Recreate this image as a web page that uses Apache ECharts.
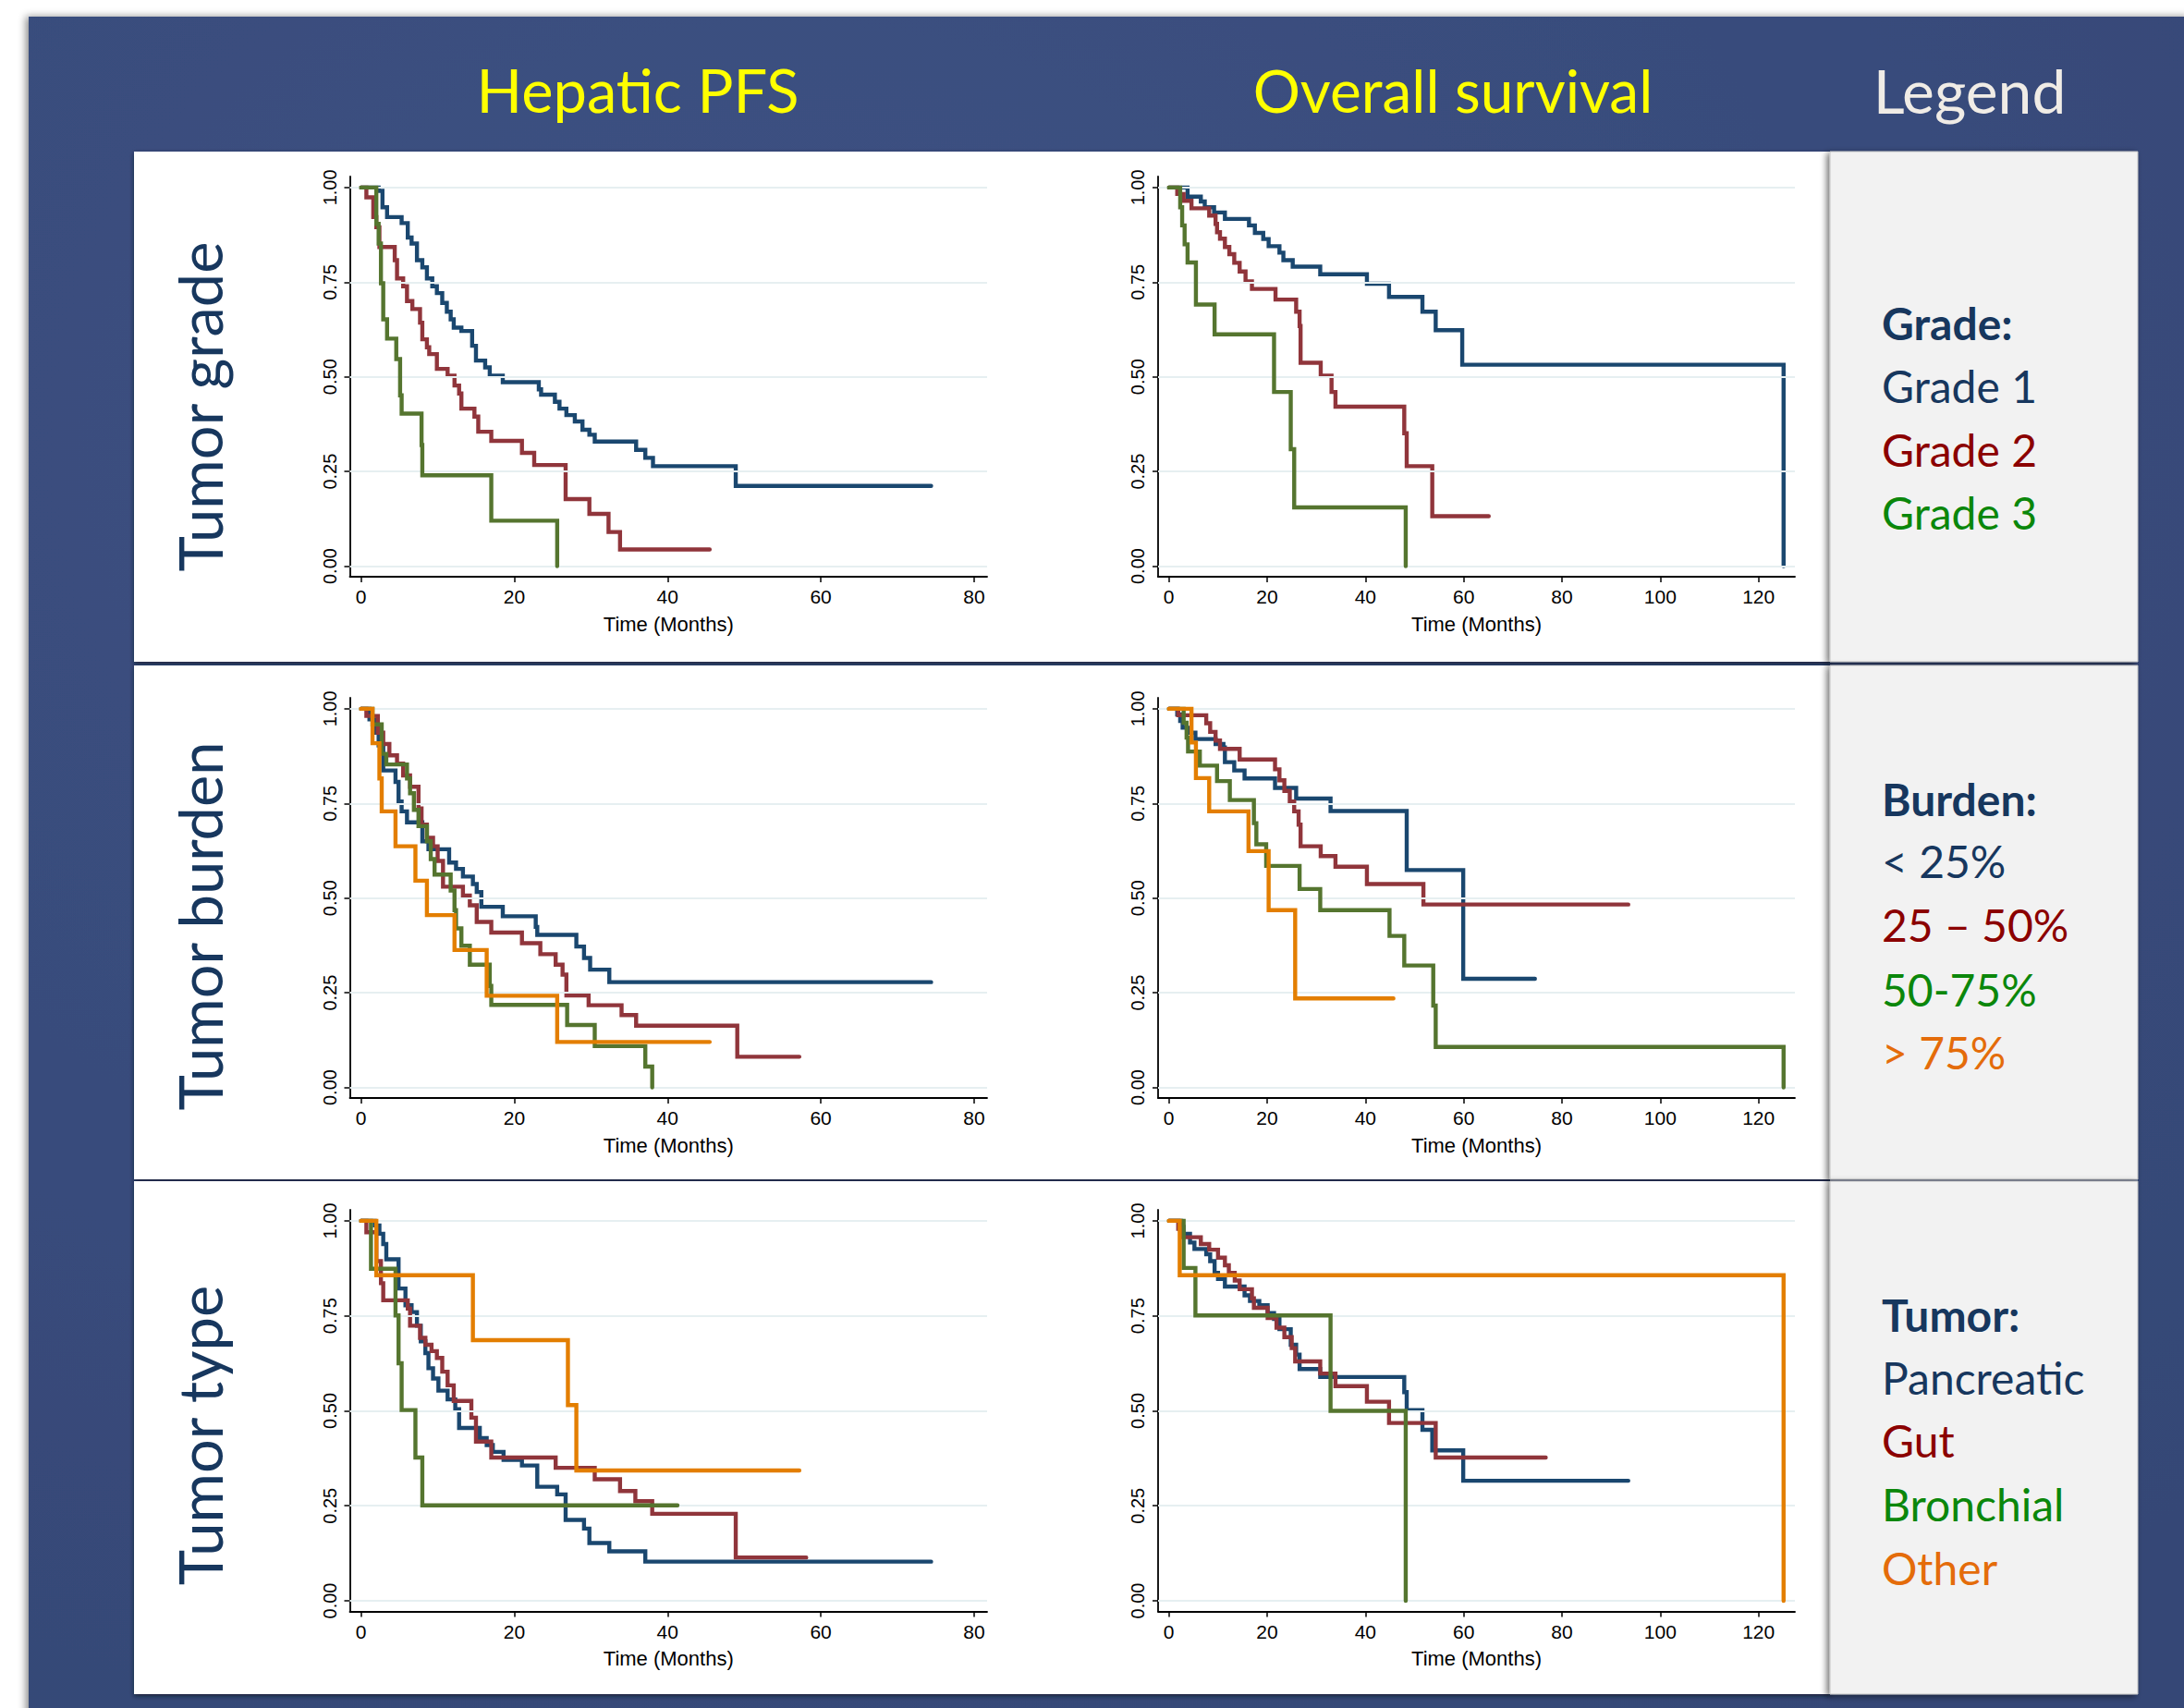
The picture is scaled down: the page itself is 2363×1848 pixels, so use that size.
<!DOCTYPE html>
<html><head><meta charset="utf-8">
<script src="https://cdn.jsdelivr.net/npm/echarts@6/dist/echarts.min.js"></script>
<style>html,body{margin:0;padding:0;background:#fff;}#c{width:2363px;height:1848px;}</style>
</head><body><div id="c"></div>
<script>
// ---------- tick labels & texts ----------
const xTicksPFS = [0, 20, 40, 60, 80];
const xTicksOS = [0, 20, 40, 60, 80, 100, 120];
const yTicks = [0, 0.25, 0.5, 0.75, 1];
const columnTitles = ['Hepatic PFS', 'Overall survival', 'Legend'];
const rowTitles = ['Tumor grade', 'Tumor burden', 'Tumor type'];
const legendHeads = ['Grade:', 'Burden:', 'Tumor:'];
const legendItems = [
  ['Grade 1', 'Grade 2', 'Grade 3'],
  ['< 25%', '25 – 50%', '50-75%', '> 75%'],
  ['Pancreatic', 'Gut', 'Bronchial', 'Other']
];
const xAxisName = 'Time (Months)';

// ---------- series values: [time (months), survival] ----------
const pfsGrade1 = [[0,1],[2.3,0.991],[2.8,0.948],[3.4,0.922],[5.3,0.906],[6.1,0.868],[6.6,0.852],[7.3,0.808],[8.0,0.789],[8.6,0.760],[9.3,0.739],[9.9,0.721],[10.6,0.695],[11.2,0.672],[11.7,0.652],[12.1,0.630],[13.1,0.621],[14.5,0.582],[15.0,0.543],[16.2,0.525],[16.8,0.503],[18.5,0.486],[23.2,0.467],[23.5,0.453],[25.3,0.434],[25.9,0.416],[26.8,0.399],[27.9,0.382],[28.9,0.360],[29.8,0.347],[30.5,0.329],[35.9,0.307],[37.1,0.286],[38.1,0.264],[48.9,0.212],[74.4,0.212]];
const pfsGrade2 = [[0,1],[0.7,0.974],[1.6,0.922],[2.0,0.895],[2.4,0.843],[4.4,0.808],[4.7,0.760],[5.5,0.739],[6.0,0.700],[6.7,0.679],[7.7,0.643],[8.0,0.599],[8.6,0.578],[8.9,0.560],[9.9,0.521],[11.3,0.503],[12.2,0.477],[12.8,0.456],[13.1,0.416],[14.8,0.395],[15.3,0.355],[17.0,0.331],[21.0,0.299],[22.6,0.267],[26.7,0.177],[29.8,0.138],[32.3,0.090],[33.8,0.044],[45.5,0.044]];
const pfsGrade3 = [[0,1],[2.0,0.904],[2.3,0.852],[2.6,0.747],[2.9,0.652],[3.4,0.601],[4.6,0.547],[5.1,0.451],[5.3,0.403],[7.9,0.32],[8.0,0.24],[17.0,0.12],[25.6,0]];

const osGrade1 = [[0,1],[3.8,0.976],[6.5,0.963],[7.3,0.948],[9.2,0.934],[11.4,0.917],[16.3,0.9],[17.5,0.88],[19.2,0.864],[20.3,0.845],[22.5,0.828],[23.3,0.808],[25.2,0.791],[30.8,0.771],[40.3,0.746],[44.8,0.711],[51.6,0.672],[54.3,0.623],[59.7,0.532],[125.1,0]];
const osGrade2 = [[0,1],[1.7,0.983],[3.0,0.965],[4.6,0.945],[8.2,0.926],[9.5,0.904],[9.8,0.882],[10.4,0.865],[11.4,0.843],[12.3,0.824],[13.3,0.801],[14.4,0.778],[15.6,0.752],[16.9,0.732],[21.7,0.704],[25.9,0.672],[26.6,0.634],[26.8,0.537],[30.9,0.503],[33.1,0.46],[33.9,0.421],[47.9,0.351],[48.4,0.264],[53.6,0.132],[65.1,0.132]];
const osGrade3 = [[0,1],[2.3,0.948],[2.7,0.9],[3.2,0.85],[3.8,0.802],[5.5,0.691],[9.3,0.612],[21.4,0.46],[24.8,0.309],[25.5,0.155],[48.2,0]];

const pfsBurden1 = [[0,1],[1.1,0.972],[1.8,0.937],[2.3,0.903],[2.9,0.837],[4.5,0.807],[4.9,0.755],[5.3,0.729],[6.0,0.7],[8.0,0.65],[8.8,0.629],[11.5,0.594],[12.4,0.577],[13.3,0.557],[14.6,0.537],[15.1,0.516],[15.7,0.477],[18.5,0.452],[22.8,0.424],[23.0,0.403],[28.1,0.372],[29.1,0.342],[29.9,0.311],[32.4,0.278],[74.4,0.278]];
const pfsBurden2 = [[0,1],[0.7,0.981],[2.2,0.937],[2.9,0.907],[3.7,0.877],[4.7,0.855],[5.5,0.824],[6.4,0.794],[7.5,0.737],[7.9,0.694],[8.6,0.659],[9.4,0.637],[10.0,0.598],[10.7,0.53],[13.3,0.507],[14.2,0.481],[15.1,0.437],[17.0,0.409],[21.0,0.381],[23.4,0.352],[25.4,0.324],[26.3,0.298],[26.8,0.243],[29.7,0.217],[34.0,0.191],[35.9,0.163],[49.1,0.081],[57.2,0.081]];
const pfsBurden3 = [[0,1],[1.5,0.959],[2.7,0.881],[3.3,0.853],[6.0,0.816],[6.4,0.777],[6.9,0.733],[7.5,0.69],[8.6,0.65],[9.1,0.603],[9.6,0.562],[11.7,0.52],[12.2,0.468],[12.4,0.42],[13.1,0.374],[14.2,0.324],[16.8,0.268],[17.0,0.218],[26.9,0.165],[30.5,0.109],[37.1,0.055],[38.0,0]];
const pfsBurden4 = [[0,1],[1.5,0.909],[2.4,0.816],[2.7,0.729],[4.5,0.637],[7.1,0.546],[8.6,0.455],[12.2,0.363],[16.4,0.242],[25.6,0.12],[45.5,0.12]];

const osBurden1 = [[0,1],[1.7,0.985],[2.3,0.968],[2.8,0.95],[3.9,0.937],[5.4,0.92],[9.5,0.907],[11.1,0.898],[11.4,0.859],[13.3,0.837],[15.4,0.816],[21.6,0.791],[25.9,0.763],[32.9,0.73],[48.4,0.574],[59.9,0.287],[74.5,0.287]];
const osBurden2 = [[0,1],[1.9,0.983],[7.6,0.962],[8.4,0.939],[9.5,0.916],[10.4,0.894],[14.4,0.866],[21.6,0.84],[22.5,0.811],[23.5,0.783],[24.6,0.755],[25.5,0.729],[26.4,0.694],[26.8,0.637],[30.9,0.611],[33.9,0.583],[40.3,0.537],[51.8,0.483],[93.5,0.483]];
const osBurden3 = [[0,1],[3.0,0.963],[3.6,0.924],[3.9,0.887],[6.3,0.85],[9.8,0.809],[12.4,0.759],[17.3,0.698],[17.8,0.642],[19.8,0.585],[26.6,0.524],[30.8,0.468],[44.9,0.4],[47.9,0.322],[53.8,0.216],[54.3,0.107],[125.1,0]];
const osBurden4 = [[0,1],[4.6,0.911],[5.5,0.817],[8.2,0.729],[16.2,0.624],[20.3,0.468],[25.7,0.235],[45.7,0.235]];

const pfsType1 = [[0,1],[1.8,0.988],[2.4,0.966],[2.9,0.939],[3.3,0.899],[4.9,0.822],[5.8,0.778],[6.6,0.76],[7.3,0.724],[7.8,0.683],[8.4,0.652],[8.8,0.612],[9.4,0.585],[10.1,0.553],[11.3,0.53],[12.3,0.504],[12.8,0.455],[15.5,0.428],[16.4,0.41],[17.2,0.392],[18.6,0.371],[21.0,0.356],[23.0,0.3],[25.6,0.28],[26.7,0.213],[29.1,0.19],[29.8,0.152],[32.4,0.13],[37.1,0.103],[74.4,0.103]];
const pfsType2 = [[0,1],[0.7,0.97],[2.0,0.894],[2.6,0.836],[2.9,0.791],[6.1,0.769],[6.4,0.724],[7.7,0.692],[8.4,0.674],[9.2,0.657],[9.9,0.639],[10.6,0.603],[11.3,0.567],[12.1,0.526],[14.4,0.482],[15.0,0.419],[17.0,0.377],[25.4,0.35],[30.5,0.32],[33.8,0.289],[35.8,0.262],[38.0,0.229],[48.9,0.114],[58.1,0.114]];
const pfsType3 = [[0,1],[1.3,0.874],[4.5,0.751],[4.9,0.625],[5.3,0.502],[7.1,0.377],[8.0,0.251],[41.3,0.251]];
const pfsType4 = [[0,1],[2.0,0.857],[14.6,0.686],[27.0,0.515],[28.1,0.343],[57.2,0.343]];

const osType1 = [[0,1],[2.5,0.984],[3.0,0.966],[4.3,0.943],[5.2,0.926],[7.6,0.912],[8.4,0.894],[9.3,0.863],[10.0,0.847],[11.4,0.827],[15.4,0.804],[16.5,0.789],[18.4,0.778],[20.1,0.757],[21.4,0.742],[22.5,0.715],[24.8,0.674],[25.9,0.648],[26.6,0.61],[30.8,0.589],[47.9,0.549],[48.4,0.502],[51.6,0.45],[53.6,0.396],[59.9,0.316],[93.5,0.316]];
const osType2 = [[0,1],[1.9,0.979],[2.5,0.957],[6.5,0.939],[8.2,0.924],[10.0,0.903],[11.4,0.883],[12.2,0.863],[13.4,0.843],[14.4,0.82],[16.9,0.796],[17.3,0.771],[20.1,0.744],[21.9,0.719],[23.5,0.694],[25.0,0.665],[25.7,0.63],[30.8,0.598],[33.9,0.565],[40.3,0.524],[44.8,0.468],[54.3,0.377],[76.7,0.377]];
const osType3 = [[0,1],[3.0,0.876],[5.4,0.751],[32.9,0.5],[48.2,0]];
const osType4 = [[0,1],[2.2,0.857],[125.1,0]];

// ---------- styling / layout ----------
const lineColors = ['#1a476f', '#90353b', '#55752f', '#e37e00'];
const legendColors = ['#17375e', '#8b0000', '#0b870b', '#e46c0a'];
const headColor = '#17375e';
const cols = [
  { left: 378.5, width: 689.5, min: -1.46, max: 81.7, ticks: xTicksPFS },
  { left: 1253, width: 689, min: -2.2, max: 127.4, ticks: xTicksOS }
];
const rows = [
  { top: 191, height: 433, panelY: 164, panelH: 552, center: 440, legY: [349, 417, 486, 554] },
  { top: 755, height: 433, panelY: 720, panelH: 556, center: 1002, legY: [864, 931, 1000, 1070, 1138] },
  { top: 1309, height: 434.5, panelY: 1278, panelH: 555, center: 1553, legY: [1422, 1490, 1558, 1627, 1696] }
];
const panels = [
  { row: 0, col: 0, curves: [pfsGrade1, pfsGrade2, pfsGrade3] },
  { row: 0, col: 1, curves: [osGrade1, osGrade2, osGrade3] },
  { row: 1, col: 0, curves: [pfsBurden1, pfsBurden2, pfsBurden3, pfsBurden4] },
  { row: 1, col: 1, curves: [osBurden1, osBurden2, osBurden3, osBurden4] },
  { row: 2, col: 0, curves: [pfsType1, pfsType2, pfsType3, pfsType4] },
  { row: 2, col: 1, curves: [osType1, osType2, osType3, osType4] }
];

const grid = [], xAxis = [], yAxis = [], series = [];
const tickFont = '"Liberation Sans", Arial, Helvetica, sans-serif';
panels.forEach((p, i) => {
  const c = cols[p.col], r = rows[p.row];
  grid.push({ left: c.left, top: r.top, width: c.width, height: r.height, containLabel: false });
  xAxis.push({
    type: 'value', gridIndex: i, min: c.min, max: c.max,
    axisLine: { show: true, onZero: false, lineStyle: { color: '#000', width: 1.8 } },
    axisTick: { show: true, customValues: c.ticks, length: 6, lineStyle: { color: '#000', width: 1.5 } },
    axisLabel: { show: true, customValues: c.ticks, fontSize: 21, color: '#000', fontFamily: tickFont, margin: 11 },
    splitLine: { show: false },
    name: xAxisName, nameLocation: 'middle', nameGap: 40,
    nameTextStyle: { fontSize: 22, color: '#000', fontFamily: tickFont }
  });
  yAxis.push({
    type: 'value', gridIndex: i, min: -0.028, max: 1.029,
    axisLine: { show: true, onZero: false, lineStyle: { color: '#000', width: 1.8 } },
    axisTick: { show: true, customValues: yTicks, length: 6, lineStyle: { color: '#000', width: 1.5 } },
    axisLabel: { show: true, customValues: yTicks, rotate: 90, fontSize: 20, color: '#000', fontFamily: tickFont, margin: 12,
      formatter: v => Number(v).toFixed(2) },
    splitLine: { show: false }
  });
  // gridlines
  series.push({
    type: 'line', xAxisIndex: i, yAxisIndex: i, data: [], z: 1, silent: true,
    markLine: { silent: true, symbol: ['none', 'none'], animation: false, label: { show: false },
      lineStyle: { color: '#e6eff1', width: 1.8, type: 'solid' },
      data: yTicks.map(v => ({ yAxis: v })) }
  });
  p.curves.forEach((d, k) => {
    series.push({
      type: 'line', xAxisIndex: i, yAxisIndex: i, data: d, step: 'end',
      showSymbol: false, symbol: 'none', z: 3 + k, silent: true,
      lineStyle: { color: lineColors[k], width: 4.4, join: 'miter', cap: 'round' }
    });
  });
});

// ---------- decorative background & texts ----------
const titleFont = 'Lato, "Open Sans", "Noto Sans", sans-serif';
const graphic = [];
graphic.push({
  type: 'rect', z: -30, shape: { x: 31, y: 18, width: 2340, height: 1840 },
  style: {
    fill: { type: 'radial', x: 0.35, y: 0.25, r: 0.9,
      colorStops: [{ offset: 0, color: '#3d5283' }, { offset: 1, color: '#354776' }] },
    shadowBlur: 8, shadowColor: 'rgba(0,0,0,0.45)', shadowOffsetX: -3
  }
});
rows.forEach(r => {
  graphic.push({ type: 'rect', z: -20, shape: { x: 145, y: r.panelY, width: 1835, height: r.panelH },
    style: { fill: '#ffffff', shadowBlur: 5, shadowColor: 'rgba(10,20,40,0.8)', shadowOffsetY: 2 } });
  graphic.push({ type: 'rect', z: -19, shape: { x: 1980, y: r.panelY, width: 333, height: r.panelH },
    style: { fill: '#f2f2f2', stroke: '#c4c4c4', lineWidth: 1, shadowBlur: 7, shadowColor: 'rgba(0,0,0,0.55)', shadowOffsetX: -3, shadowOffsetY: 2 } });
});
const titleX = [690, 1572, 2131];
const titleColors = ['#ffff00', '#ffff00', '#f0ece6'];
const titleSizes = [65, 64, 66];
columnTitles.forEach((t, i) => {
  graphic.push({ type: 'text', z: 50, x: titleX[i], y: 97,
    style: { text: t, fill: titleColors[i], font: titleSizes[i] + 'px ' + titleFont, textAlign: 'center', textVerticalAlign: 'middle' } });
});
rowTitles.forEach((t, i) => {
  graphic.push({ type: 'text', z: 50, x: 216, y: rows[i].center, rotation: Math.PI / 2,
    style: { text: t, fill: headColor, font: '65px ' + titleFont, textAlign: 'center', textVerticalAlign: 'middle' } });
});
legendHeads.forEach((h, i) => {
  const ys = rows[i].legY;
  graphic.push({ type: 'text', z: 50, x: 2036, y: ys[0],
    style: { text: h, fill: headColor, font: 'bold 48px ' + titleFont, textAlign: 'left', textVerticalAlign: 'middle' } });
  legendItems[i].forEach((it, k) => {
    graphic.push({ type: 'text', z: 50, x: 2036, y: ys[k + 1],
      style: { text: it, fill: legendColors[k], font: '48px ' + titleFont, textAlign: 'left', textVerticalAlign: 'middle' } });
  });
});

const chart = echarts.init(document.getElementById('c'), null, { renderer: 'svg', width: 2363, height: 1848 });
chart.setOption({
  animation: false,
  backgroundColor: '#ffffff',
  grid, xAxis, yAxis, series, graphic
});
</script></body></html>
